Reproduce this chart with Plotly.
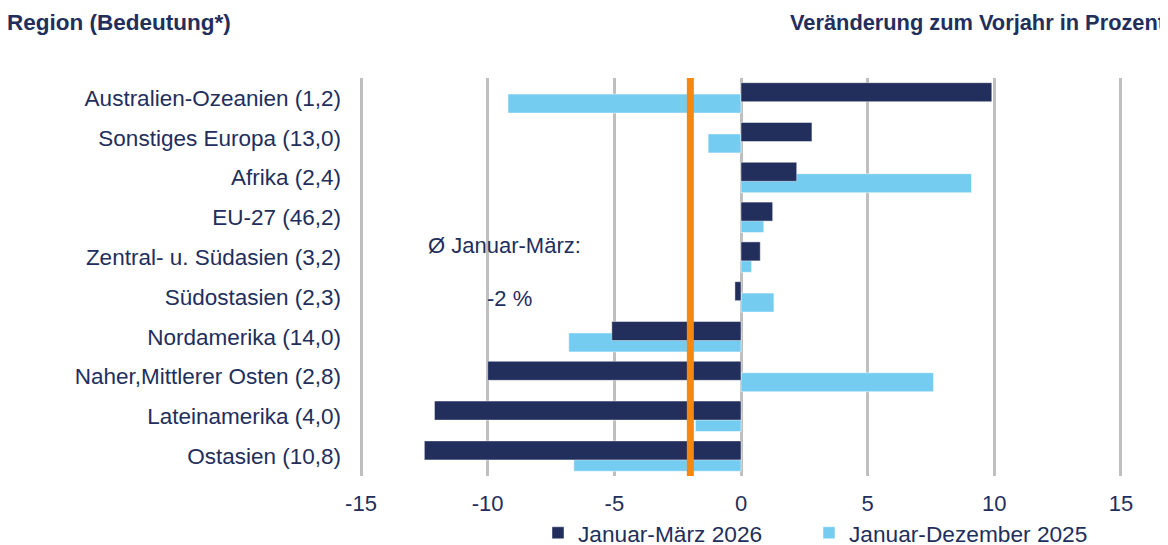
import plotly.graph_objects as go

regions = [
    "Australien-Ozeanien (1,2)",
    "Sonstiges Europa (13,0)",
    "Afrika (2,4)",
    "EU-27 (46,2)",
    "Zentral- u. Südasien (3,2)",
    "Südostasien (2,3)",
    "Nordamerika (14,0)",
    "Naher,Mittlerer Osten (2,8)",
    "Lateinamerika (4,0)",
    "Ostasien (10,8)",
]
jan_maerz_2026 = [9.9, 2.8, 2.2, 1.25, 0.76, -0.24, -5.1, -10.0, -12.1, -12.5]
jan_dez_2025 = [-9.2, -1.3, 9.1, 0.9, 0.42, 1.3, -6.8, 7.6, -1.8, -6.6]
durchschnitt = -2.0
x_ticks = [-15, -10, -5, 0, 5, 10, 15]
x_tick_labels = ["-15", "-10", "-5", "0", "5", "10", "15"]

NAVY = "#222E5B"
LIGHT = "#75CCF1"
ORANGE = "#F7870F"
GRID = "#BFBFBF"
FONT = "Liberation Sans, Arial, sans-serif"

# page body has an 8px margin, so figure pixel = screen pixel - 8
OFF = 8
W, H = 1168 - OFF, 545 - OFF
L = 360 - OFF
T = 78 - OFF
R = W - (1122 - OFF)
B = H - (476 - OFF)
PW, PH = W - L - R, H - T - B


def px_x(sx):
    return (sx - OFF - L) / PW


def px_y(sy):
    return (H - B - (sy - OFF)) / PH


fig = go.Figure()
fig.add_trace(go.Bar(
    name="Januar-Dezember 2025", y=regions, x=jan_dez_2025, orientation="h",
    marker=dict(color=LIGHT, line=dict(color="rgba(255,255,255,0.5)", width=1)),
    width=0.477, offset=-0.095, legend="legend2",
))
fig.add_trace(go.Bar(
    name="Januar-März 2026", y=regions, x=jan_maerz_2026, orientation="h",
    marker=dict(color=NAVY, line=dict(color="rgba(255,255,255,0.45)", width=1)),
    width=0.477, offset=-0.382, legend="legend",
))

# average line
fig.add_shape(type="line", x0=durchschnitt, x1=durchschnitt, xref="x",
              y0=0, y1=1, yref="paper", line=dict(color=ORANGE, width=7), layer="above")

# white boxes behind annotation text
fig.add_shape(type="rect", xref="x", yref="paper", x0=-12.64, x1=-4.57,
              y0=px_y(269), y1=px_y(217),
              fillcolor="white", line=dict(width=0), layer="between")
fig.add_shape(type="rect", xref="x", yref="paper", x0=-10.28, x1=-7.72,
              y0=px_y(325), y1=px_y(275),
              fillcolor="white", line=dict(width=0), layer="between")

fig.add_annotation(text="Ø Januar-März:", x=-12.45, xref="x", y=px_y(245), yref="paper",
                   xanchor="left", yanchor="middle", showarrow=False,
                   font=dict(size=22, color=NAVY, family=FONT))
fig.add_annotation(text="-2 %", x=-10.1, xref="x", y=px_y(298), yref="paper",
                   xanchor="left", yanchor="middle", showarrow=False,
                   font=dict(size=22, color=NAVY, family=FONT))

fig.add_annotation(text="<b>Region (Bedeutung*)</b>", x=px_x(5), xref="paper",
                   y=px_y(22), yref="paper", xanchor="left", yanchor="middle",
                   showarrow=False, font=dict(size=22.5, color=NAVY, family=FONT))
fig.add_annotation(text="<b>Veränderung zum Vorjahr in Prozent</b>", x=px_x(1167),
                   xref="paper", y=px_y(22), yref="paper", xanchor="right",
                   yanchor="middle", showarrow=False,
                   font=dict(size=21.8, color=NAVY, family=FONT))

legend_common = dict(orientation="h", xref="container", xanchor="left",
                     yref="container", y=(545 - 533) / H, yanchor="middle",
                     font=dict(size=22.7, color=NAVY), bgcolor="rgba(0,0,0,0)")

fig.update_layout(
    width=W, height=H,
    margin=dict(l=L, r=R, t=T, b=B, autoexpand=False),
    barmode="overlay",
    plot_bgcolor="white", paper_bgcolor="white",
    font=dict(family=FONT, size=22, color=NAVY),
    showlegend=True,
    legend=dict(x=(538 - OFF) / W, **legend_common),
    legend2=dict(x=(809 - OFF) / W, **legend_common),
    xaxis=dict(range=[-15.04, 15.04], tickvals=x_ticks, ticktext=x_tick_labels,
               showgrid=True, gridcolor=GRID, gridwidth=2.5, zeroline=False,
               showline=False, ticks="", ticklabelstandoff=12,
               tickfont=dict(size=22, color=NAVY), automargin=False),
    yaxis=dict(type="category", categoryorder="array", categoryarray=regions,
               range=[9.5, -0.5], showgrid=False, ticks="", ticklabelstandoff=18,
               tickfont=dict(size=22.5, color=NAVY), automargin=False),
)

fig.write_html("out.html")
